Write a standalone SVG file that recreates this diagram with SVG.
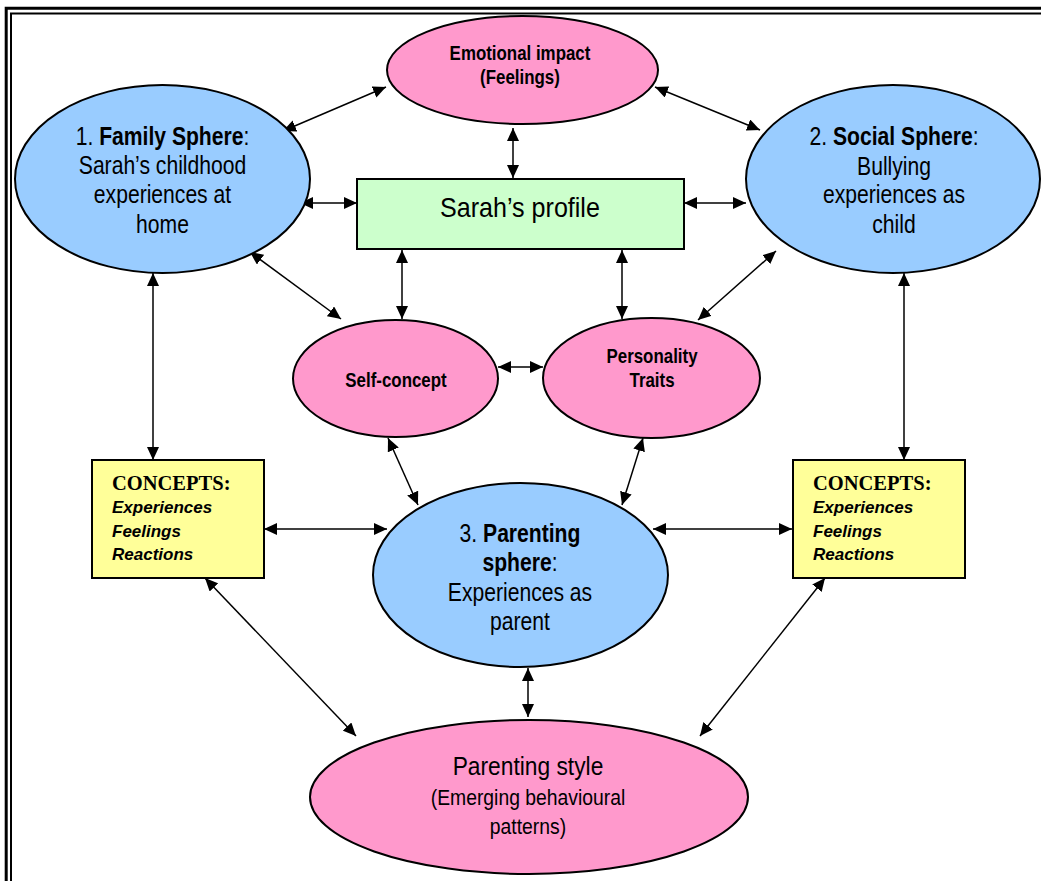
<svg xmlns="http://www.w3.org/2000/svg" width="1041" height="881" viewBox="0 0 1041 881">
  <style>
    .frame { fill: none; stroke: #000; }
    .blue { fill: #99CCFF; stroke: #000; stroke-width: 2; }
    .pink { fill: #FF99CC; stroke: #000; stroke-width: 2; }
    .green { fill: #CCFFCC; stroke: #000; stroke-width: 2; }
    .yellow { fill: #FFFF99; stroke: #000; stroke-width: 2; }
    .t { font-family: "Liberation Sans", Arial, sans-serif; fill: #000; text-anchor: middle; }
    .b { font-weight: bold; }
    .serif { font-family: "Liberation Serif", "Times New Roman", serif; font-weight: bold; }
    .bi { font-family: "Liberation Sans", Arial, sans-serif; font-weight: bold; font-style: italic; }
    .link { fill: none; stroke: #000; stroke-width: 1.5; marker-start: url(#head); marker-end: url(#head); }
  </style>
  <defs>
    <marker id="head" markerUnits="userSpaceOnUse" markerWidth="14" markerHeight="12" refX="13" refY="6" orient="auto-start-reverse" viewBox="0 0 14 12">
      <path d="M0,0 L13,6 L0,12 z" fill="#000"/>
    </marker>
  </defs>

  <rect width="1041" height="881" fill="#fff"/>

  <!-- double page border, open to the right and bottom -->
  <g id="border">
    <path class="frame" d="M6.2,881 V8.2 H1041" stroke-width="3"/>
    <path class="frame" d="M11,881 V13.5 H1041" stroke-width="2"/>
  </g>

  <!-- connectors -->
  <g id="connectors">
    <line class="link" x1="283" y1="131" x2="386" y2="87"/>
    <line class="link" x1="655" y1="87" x2="760" y2="130"/>
    <line class="link" x1="513" y1="128" x2="513" y2="178"/>
    <line class="link" x1="300" y1="203" x2="357" y2="203"/>
    <line class="link" x1="684" y1="203" x2="746" y2="203"/>
    <line class="link" x1="250" y1="252" x2="341" y2="319"/>
    <line class="link" x1="402" y1="250" x2="402" y2="319"/>
    <line class="link" x1="622" y1="250" x2="622" y2="319"/>
    <line class="link" x1="776" y1="251" x2="698" y2="320"/>
    <line class="link" x1="498" y1="367" x2="543" y2="367"/>
    <line class="link" x1="153" y1="273" x2="153" y2="460"/>
    <line class="link" x1="904" y1="273" x2="904" y2="460"/>
    <line class="link" x1="388" y1="438" x2="418" y2="505"/>
    <line class="link" x1="643" y1="438" x2="622" y2="505"/>
    <line class="link" x1="264" y1="529" x2="387" y2="529"/>
    <line class="link" x1="653" y1="529" x2="792" y2="529"/>
    <line class="link" x1="205" y1="578" x2="356" y2="736"/>
    <line class="link" x1="825" y1="578" x2="700" y2="736"/>
    <line class="link" x1="528" y1="668" x2="528" y2="717"/>
  </g>

  <g id="emotional-impact">
    <ellipse class="pink" cx="522.5" cy="70" rx="135.5" ry="54"/>
    <g transform="matrix(0.845 0 0 1 80.6 0)" font-size="20">
      <text class="t b" x="520" y="60">Emotional impact</text>
      <text class="t b" x="520" y="84">(Feelings)</text>
    </g>
  </g>

  <g id="family-sphere">
    <ellipse class="blue" cx="162.5" cy="179" rx="147.5" ry="94"/>
    <g transform="matrix(0.845 0 0 1 25.2 0)" font-size="25">
      <text class="t" x="162.5" y="145">1. <tspan class="b">Family Sphere</tspan>:</text>
      <text class="t" x="162.5" y="174">Sarah’s childhood</text>
      <text class="t" x="162.5" y="203">experiences at</text>
      <text class="t" x="162.5" y="233">home</text>
    </g>
  </g>

  <g id="social-sphere">
    <ellipse class="blue" cx="893" cy="179" rx="147" ry="94"/>
    <g transform="matrix(0.845 0 0 1 138.6 0)" font-size="25">
      <text class="t" x="894" y="145">2. <tspan class="b">Social Sphere</tspan>:</text>
      <text class="t" x="894" y="175">Bullying</text>
      <text class="t" x="894" y="203">experiences as</text>
      <text class="t" x="894" y="233">child</text>
    </g>
  </g>

  <g id="sarahs-profile">
    <rect class="green" x="357" y="179" width="327" height="70"/>
    <g transform="matrix(0.88 0 0 1 62.4 0)">
      <text class="t" x="520" y="217" font-size="28.5">Sarah’s profile</text>
    </g>
  </g>

  <g id="self-concept">
    <ellipse class="pink" cx="395.5" cy="378.5" rx="102.5" ry="58.5"/>
    <g transform="matrix(0.845 0 0 1 61.4 0)">
      <text class="t b" x="396" y="387" font-size="20">Self-concept</text>
    </g>
  </g>

  <g id="personality-traits">
    <ellipse class="pink" cx="651.5" cy="378" rx="108.5" ry="60"/>
    <g transform="matrix(0.845 0 0 1 101.1 0)" font-size="20">
      <text class="t b" x="652" y="363">Personality</text>
      <text class="t b" x="652" y="387">Traits</text>
    </g>
  </g>

  <g id="concepts-left">
    <rect class="yellow" x="92" y="460" width="172" height="118"/>
    <text class="serif" x="112" y="490" font-size="20.5">CONCEPTS:</text>
    <text class="bi" x="112" y="513" font-size="17">Experiences</text>
    <text class="bi" x="112" y="537" font-size="17">Feelings</text>
    <text class="bi" x="112" y="560" font-size="17">Reactions</text>
  </g>

  <g id="concepts-right">
    <rect class="yellow" x="793" y="460" width="172" height="118"/>
    <text class="serif" x="813" y="490" font-size="20.5">CONCEPTS:</text>
    <text class="bi" x="813" y="513" font-size="17">Experiences</text>
    <text class="bi" x="813" y="537" font-size="17">Feelings</text>
    <text class="bi" x="813" y="560" font-size="17">Reactions</text>
  </g>

  <g id="parenting-sphere">
    <ellipse class="blue" cx="520.5" cy="575" rx="147.5" ry="92"/>
    <g transform="matrix(0.845 0 0 1 80.6 0)" font-size="25">
      <text class="t" x="520" y="542">3. <tspan class="b">Parenting</tspan></text>
      <text class="t" x="520" y="571"><tspan class="b">sphere</tspan>:</text>
      <text class="t" x="520" y="601">Experiences as</text>
      <text class="t" x="520" y="630">parent</text>
    </g>
  </g>

  <g id="parenting-style">
    <ellipse class="pink" cx="529" cy="797" rx="219" ry="77"/>
    <g transform="matrix(0.86 0 0 1 73.9 0)">
      <text class="t" x="528" y="775" font-size="26.5">Parenting style</text>
      <text class="t" x="528" y="805" font-size="22.5">(Emerging behavioural</text>
      <text class="t" x="528" y="834" font-size="22.5">patterns)</text>
    </g>
  </g>
</svg>
